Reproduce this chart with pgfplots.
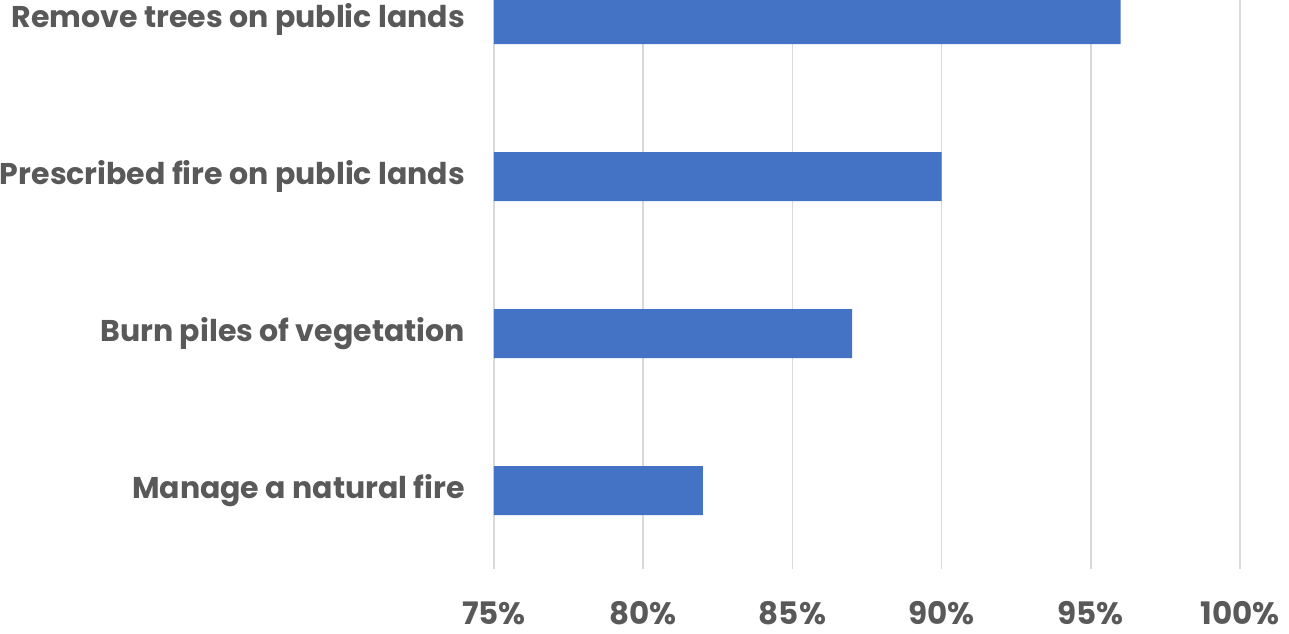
\documentclass[border=0pt]{standalone}
\usepackage{fontspec}
\setmainfont{Poppins}[BoldFont={* Bold}]
\usepackage{pgfplots}
\pgfplotsset{compat=1.18}
\definecolor{barblue}{HTML}{4472C4}
\definecolor{txtgray}{HTML}{595959}
\definecolor{gridgray}{HTML}{D9D9D9}
\begin{document}
\begin{tikzpicture}
\begin{axis}[
  at={(0,0)}, anchor=south west,
  scale only axis,
  width=373pt, height=314pt,
  xbar, bar width=24.5pt,
  xmin=75, xmax=100,
  ymin=-0.5, ymax=3.5,
  xtick={75,80,85,90,95,100},
  xticklabels={75\%,80\%,85\%,90\%,95\%,100\%},
  ytick={0,1,2,3},
  yticklabels={Manage a natural fire, Burn piles of vegetation, Prescribed fire on public lands, Remove trees on public lands},
  axis line style={draw=none},
  major tick length=0pt,
  xmajorgrids, grid style={gridgray, line width=0.8pt},
  yticklabel style={font=\fontsize{15}{17}\selectfont\bfseries, text=txtgray, xshift=-11pt},
  xticklabel style={font=\fontsize{15.5}{17}\selectfont\bfseries, text=txtgray, inner sep=0pt, yshift=-16pt},
]
\addplot[fill=barblue, draw=none] coordinates {(82,0) (87,1) (90,2) (96,3)};
\end{axis}
\pgfresetboundingbox
\useasboundingbox (-247pt,-32pt) rectangle (397.5pt,284.5pt);
\end{tikzpicture}
\end{document}
